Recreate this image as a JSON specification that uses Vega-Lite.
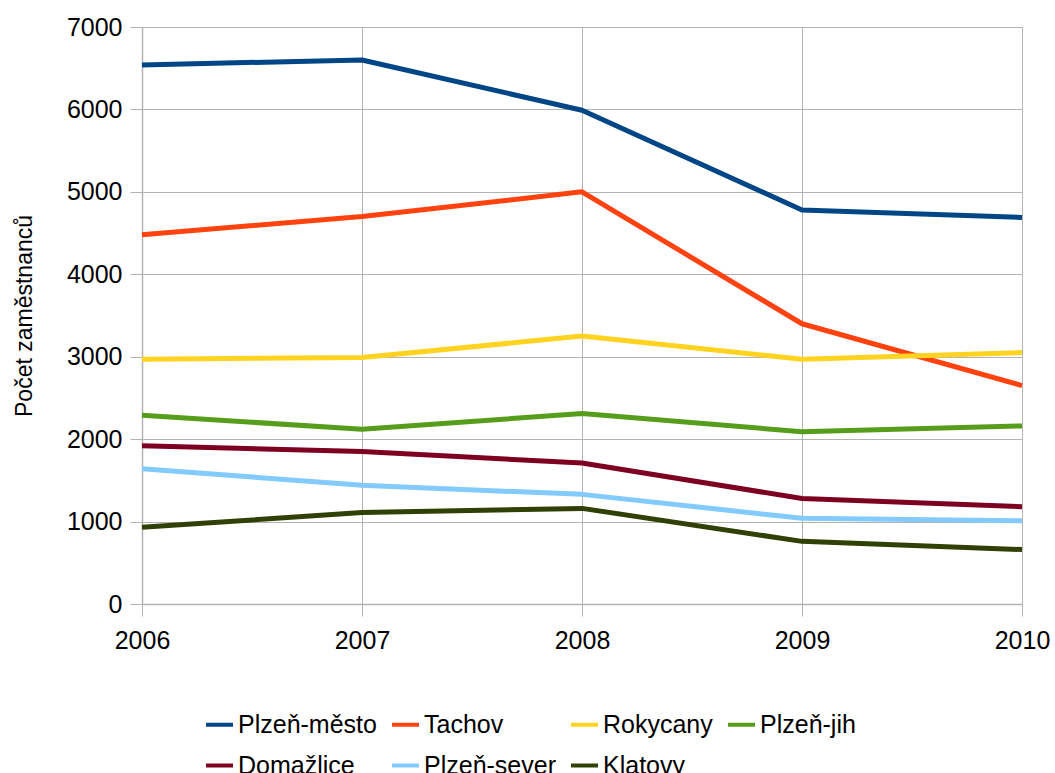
{
  "$schema": "https://vega.github.io/schema/vega-lite/v6.json",
  "width": 880,
  "height": 577,
  "autosize": {"type": "none"},
  "padding": {"left": 142, "top": 27, "right": 33, "bottom": 169},
  "background": "white",
  "config": {
    "font": "Liberation Sans",
    "view": {"stroke": null},
    "axis": {
      "gridColor": "#b3b3b3",
      "gridWidth": 1,
      "domainColor": "#b3b3b3",
      "domainWidth": 1.5,
      "tickColor": "#b3b3b3",
      "tickSize": 12,
      "labelColor": "#000000",
      "labelFontSize": 25,
      "labelFont": "Liberation Sans",
      "titleFont": "Liberation Sans",
      "titleColor": "#000000",
      "titleFontWeight": "normal"
    }
  },
  "data": {
    "values": [
      {"rok": 2006, "okres": "Plzeň-město", "pocet": 6540},
      {"rok": 2007, "okres": "Plzeň-město", "pocet": 6600},
      {"rok": 2008, "okres": "Plzeň-město", "pocet": 5990},
      {"rok": 2009, "okres": "Plzeň-město", "pocet": 4780},
      {"rok": 2010, "okres": "Plzeň-město", "pocet": 4690},
      {"rok": 2006, "okres": "Tachov", "pocet": 4480},
      {"rok": 2007, "okres": "Tachov", "pocet": 4700},
      {"rok": 2008, "okres": "Tachov", "pocet": 5000},
      {"rok": 2009, "okres": "Tachov", "pocet": 3400},
      {"rok": 2010, "okres": "Tachov", "pocet": 2650},
      {"rok": 2006, "okres": "Rokycany", "pocet": 2970},
      {"rok": 2007, "okres": "Rokycany", "pocet": 2990},
      {"rok": 2008, "okres": "Rokycany", "pocet": 3250},
      {"rok": 2009, "okres": "Rokycany", "pocet": 2970},
      {"rok": 2010, "okres": "Rokycany", "pocet": 3050},
      {"rok": 2006, "okres": "Plzeň-jih", "pocet": 2290},
      {"rok": 2007, "okres": "Plzeň-jih", "pocet": 2120},
      {"rok": 2008, "okres": "Plzeň-jih", "pocet": 2310},
      {"rok": 2009, "okres": "Plzeň-jih", "pocet": 2090},
      {"rok": 2010, "okres": "Plzeň-jih", "pocet": 2160},
      {"rok": 2006, "okres": "Domažlice", "pocet": 1920},
      {"rok": 2007, "okres": "Domažlice", "pocet": 1850},
      {"rok": 2008, "okres": "Domažlice", "pocet": 1710},
      {"rok": 2009, "okres": "Domažlice", "pocet": 1280},
      {"rok": 2010, "okres": "Domažlice", "pocet": 1180},
      {"rok": 2006, "okres": "Plzeň-sever", "pocet": 1640},
      {"rok": 2007, "okres": "Plzeň-sever", "pocet": 1440},
      {"rok": 2008, "okres": "Plzeň-sever", "pocet": 1330},
      {"rok": 2009, "okres": "Plzeň-sever", "pocet": 1040},
      {"rok": 2010, "okres": "Plzeň-sever", "pocet": 1010},
      {"rok": 2006, "okres": "Klatovy", "pocet": 930},
      {"rok": 2007, "okres": "Klatovy", "pocet": 1110},
      {"rok": 2008, "okres": "Klatovy", "pocet": 1160},
      {"rok": 2009, "okres": "Klatovy", "pocet": 760},
      {"rok": 2010, "okres": "Klatovy", "pocet": 660}
    ]
  },
  "mark": {"type": "line", "strokeWidth": 5, "strokeJoin": "round"},
  "encoding": {
    "x": {
      "field": "rok",
      "type": "quantitative",
      "scale": {"domain": [2006, 2010], "nice": false, "zero": false},
      "axis": {
        "title": null,
        "values": [2006, 2007, 2008, 2009, 2010],
        "format": "d",
        "grid": true,
        "labelPadding": 12,
        "labelFlush": false
      }
    },
    "y": {
      "field": "pocet",
      "type": "quantitative",
      "scale": {"domain": [0, 7000], "nice": false},
      "axis": {
        "title": "Počet zaměstnanců",
        "titleFontSize": 23,
        "titlePadding": 30,
        "values": [0, 1000, 2000, 3000, 4000, 5000, 6000, 7000],
        "format": "d",
        "grid": true,
        "labelPadding": 8
      }
    },
    "color": {
      "field": "okres",
      "type": "nominal",
      "sort": ["Plzeň-město", "Tachov", "Rokycany", "Plzeň-jih", "Domažlice", "Plzeň-sever", "Klatovy"],
      "scale": {
        "domain": ["Plzeň-město", "Tachov", "Rokycany", "Plzeň-jih", "Domažlice", "Plzeň-sever", "Klatovy"],
        "range": ["#004586", "#ff420e", "#ffd320", "#579d1c", "#7e0021", "#83caff", "#314004"]
      },
      "legend": {
        "title": null,
        "orient": "none",
        "legendX": 62,
        "legendY": 682,
        "direction": "horizontal",
        "columns": 4,
        "gridAlign": "each",
        "columnPadding": 7,
        "rowPadding": 12,
        "symbolType": "stroke",
        "symbolSize": 729,
        "symbolStrokeWidth": 4,
        "labelFontSize": 25,
        "labelFont": "Liberation Sans",
        "labelColor": "#000000",
        "labelOffset": 3,
        "labelLimit": 300
      }
    }
  }
}
